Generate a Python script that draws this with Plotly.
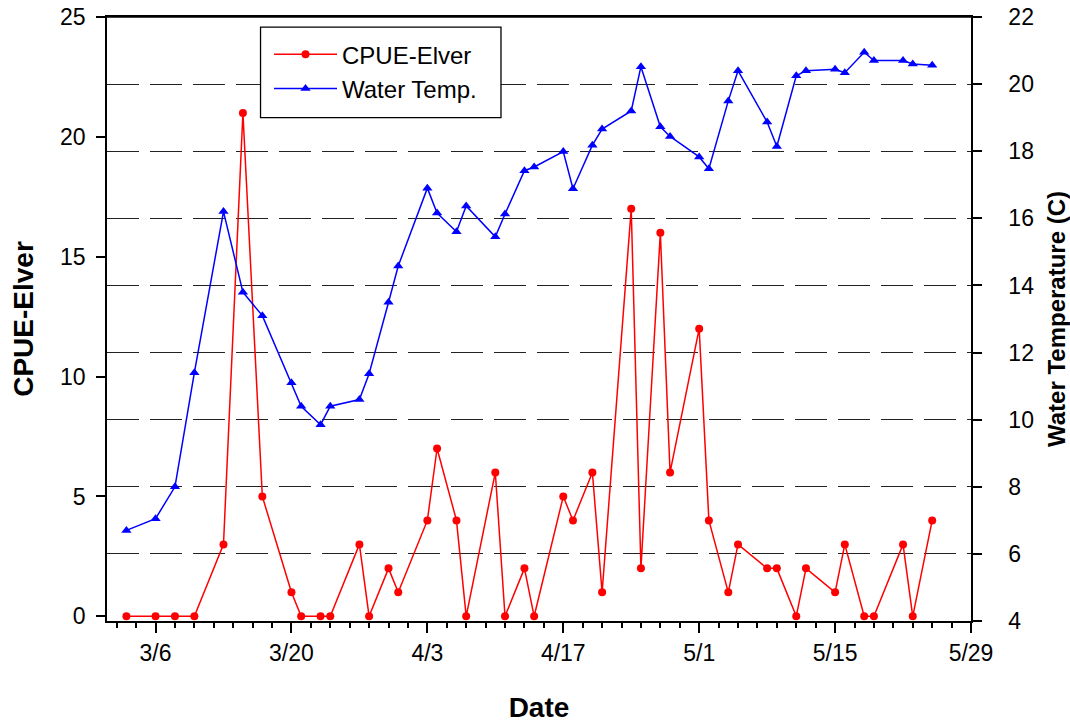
import plotly.graph_objects as go

# ---- data -------------------------------------------------------------
dates = ["2010-03-03", "2010-03-06", "2010-03-08", "2010-03-10", "2010-03-13",
         "2010-03-15", "2010-03-17", "2010-03-20", "2010-03-21", "2010-03-23",
         "2010-03-24", "2010-03-27", "2010-03-28", "2010-03-30", "2010-03-31",
         "2010-04-03", "2010-04-04", "2010-04-06", "2010-04-07", "2010-04-10",
         "2010-04-11", "2010-04-13", "2010-04-14", "2010-04-17", "2010-04-18",
         "2010-04-20", "2010-04-21", "2010-04-24", "2010-04-25", "2010-04-27",
         "2010-04-28", "2010-05-01", "2010-05-02", "2010-05-04", "2010-05-05",
         "2010-05-08", "2010-05-09", "2010-05-11", "2010-05-12", "2010-05-15",
         "2010-05-16", "2010-05-18", "2010-05-19", "2010-05-22", "2010-05-23",
         "2010-05-25"]

cpue_elver = [0, 0, 0, 0, 3, 21, 5, 1, 0, 0, 0, 3, 0, 2, 1, 4, 7, 4, 0, 6, 0, 2, 0,
              5, 4, 6, 1, 17, 2, 16, 6, 12, 4, 1, 3, 2, 2, 0, 2, 1, 3, 0, 0, 3, 0, 4]

water_temp = [6.7, 7.05, 8.0, 11.4, 16.2, 13.8, 13.1, 11.1, 10.4, 9.85, 10.4, 10.6,
              11.37, 13.5, 14.58, 16.9, 16.16, 15.6, 16.37, 15.45, 16.13, 17.42,
              17.53, 17.99, 16.88, 18.18, 18.66, 19.2, 20.52, 18.73, 18.44, 17.83,
              17.48, 19.5, 20.4, 18.87, 18.14, 20.25, 20.4, 20.44, 20.34, 20.95,
              20.7, 20.7, 20.6, 20.56]

x_range = ["2010-03-01", "2010-05-29"]
tick_start = "2010-03-06"
DAY = 86400000

FONT = "Liberation Sans, Arial, sans-serif"

fig = go.Figure()
fig.add_trace(go.Scatter(
    x=dates, y=cpue_elver, name="CPUE-Elver", mode="lines+markers",
    line=dict(color="#ff0000", width=1.5),
    marker=dict(symbol="circle", size=8, color="#ff0000"),
))
fig.add_trace(go.Scatter(
    x=dates, y=water_temp, name="Water Temp.", mode="lines+markers", yaxis="y2",
    line=dict(color="#0000ff", width=1.5),
    marker=dict(symbol="triangle-up", size=9, color="#0000ff"),
))

# top frame line of the plot area
fig.add_shape(type="line", xref="paper", yref="paper", x0=0, x1=1, y0=1, y1=1,
              line=dict(color="black", width=1.5), layer="above")
# legend frame (drawn as a box behind the legend entries)
fig.add_shape(type="rect", xref="paper", yref="paper",
              x0=0.1777, x1=0.456, y0=0.8334, y1=0.9834,
              line=dict(color="black", width=1.3), fillcolor="white", layer="above")

fig.update_layout(
    width=1070, height=723,
    margin=dict(l=107, r=99, t=17, b=102),
    paper_bgcolor="white", plot_bgcolor="white",
    font=dict(family=FONT, size=23, color="black"),
    showlegend=True,
    legend=dict(
        x=0.1875, y=0.975, xanchor="left", yanchor="top",
        bgcolor="rgba(0,0,0,0)", borderwidth=0,
        font=dict(family=FONT, size=24, color="black"),
        itemwidth=63, tracegroupgap=0,
    ),
    xaxis=dict(
        type="date", range=x_range,
        tick0=tick_start, dtick=14 * DAY, tickformat="%-m/%-d",
        ticks="outside", ticklen=10, tickwidth=1.5, tickcolor="black",
        minor=dict(tick0=tick_start, dtick=2 * DAY, ticks="outside",
                   ticklen=5, tickwidth=1.5, tickcolor="black", showgrid=False),
        showline=True, linecolor="black", linewidth=1.5, mirror=True,
        showgrid=False, zeroline=False,
        ticklabelstandoff=1, ticklabeloverflow="allow",
        title=dict(text="<b>Date</b>", font=dict(family=FONT, size=28), standoff=34),
        automargin=False,
    ),
    yaxis=dict(
        range=[-0.196, 25], dtick=5, tick0=0,
        ticks="outside", ticklen=9, tickwidth=1.5, tickcolor="black",
        showline=True, linecolor="black", linewidth=1.5,
        showgrid=False, zeroline=False,
        ticklabelstandoff=6, ticklabeloverflow="allow",
        title=dict(text="<b>CPUE-Elver</b>", font=dict(family=FONT, size=28), standoff=18),
        automargin=False,
    ),
    yaxis2=dict(
        overlaying="y", side="right", range=[4, 22], dtick=2, tick0=0,
        ticks="outside", ticklen=9, tickwidth=1.5, tickcolor="black",
        showline=True, linecolor="black", linewidth=1.5,
        showgrid=True, gridcolor="#222222", gridwidth=1.3, griddash="32px,11px",
        zeroline=False,
        ticklabelstandoff=22, ticklabeloverflow="allow",
        title=dict(text="<b>Water Temperature (C)</b>", font=dict(family=FONT, size=24),
                   standoff=26),
        automargin="right",
    ),
)

fig.write_html("out.html",
               config={"displayModeBar": False},
               post_script="document.body.style.margin='0px';"
                           "document.body.style.overflow='hidden';")
